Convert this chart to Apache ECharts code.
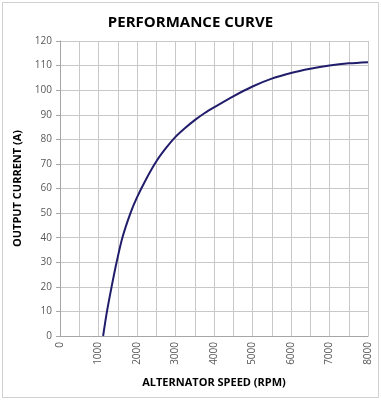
<!DOCTYPE html>
<html><head><meta charset="utf-8">
<script src="https://cdn.jsdelivr.net/npm/echarts@6/dist/echarts.min.js"></script>
<style>html,body{margin:0;padding:0;background:#fff}#c{width:381px;height:400px}</style>
</head><body><div id="c"></div>
<script>
const title = 'PERFORMANCE CURVE';
const xTitle = 'ALTERNATOR SPEED (RPM)';
const yTitle = 'OUTPUT CURRENT (A)';
const speedRpm = [1120, 1220, 1340, 1470, 1620, 1830, 2000, 2250, 2500, 2750, 3000, 3250, 3500, 3750, 4000, 4500, 5000, 5500, 6000, 6500, 7000, 7500, 8000];
const currentA = [0, 10, 20, 30, 40, 50, 56.4, 64.2, 71.0, 76.4, 81, 84.6, 87.8, 90.6, 93, 97.5, 101.5, 104.7, 107, 108.7, 110, 110.9, 111.4];

const chart = echarts.init(document.getElementById('c'), null, {renderer: 'canvas'});
const font = '"Open Sans", "Liberation Sans", sans-serif';
chart.setOption({
  backgroundColor: '#fff',
  animation: false,
  title: {text: title, left: 'center', top: 10,
    textStyle: {fontFamily: font, fontSize: 15, fontWeight: 'bold', color: '#000'}},
  graphic: [{type: 'rect', shape: {x: 2.5, y: 2.5, width: 376, height: 395},
    style: {fill: 'none', stroke: '#d0d0d0', lineWidth: 1}, silent: true}],
  grid: {left: 60, right: 13, top: 41, bottom: 64},
  xAxis: {
    type: 'value', min: 0, max: 8000, interval: 500,
    name: xTitle, nameLocation: 'middle', nameGap: 41,
    nameTextStyle: {fontFamily: font, fontSize: 11, fontWeight: 'bold', color: '#000'},
    axisLine: {lineStyle: {color: '#a6a6a6'}},
    axisTick: {show: false},
    splitLine: {lineStyle: {color: '#c8c8c8'}},
    axisLabel: {rotate: 90, fontFamily: font, fontSize: 10, color: '#595959', margin: 6,
      formatter: v => (v % 1000 === 0 ? String(v) : '')}
  },
  yAxis: {
    type: 'value', min: 0, max: 120, interval: 10,
    name: yTitle, nameLocation: 'middle', nameGap: 37, nameRotate: 90,
    nameTextStyle: {fontFamily: font, fontSize: 11, fontWeight: 'bold', color: '#000'},
    axisLine: {show: true, lineStyle: {color: '#a6a6a6'}},
    axisTick: {show: true, length: 4, lineStyle: {color: '#a6a6a6'}},
    splitLine: {lineStyle: {color: '#c8c8c8'}},
    axisLabel: {fontFamily: font, fontSize: 10, color: '#595959', margin: 8}
  },
  series: [{
    type: 'line', smooth: 0.3, showSymbol: false,
    data: speedRpm.map((x, i) => [x, currentA[i]]),
    lineStyle: {color: '#211d6b', width: 2}
  }]
});
</script></body></html>
